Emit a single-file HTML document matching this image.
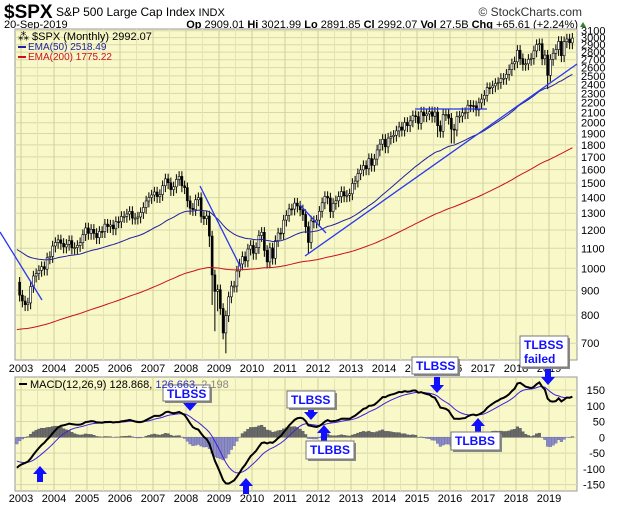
<!DOCTYPE html>
<html><head><meta charset="utf-8"><style>
html,body{margin:0;padding:0;background:#fff;}
svg{display:block;font-family:"Liberation Sans",sans-serif;}
</style></head><body>
<svg id="chart" width="620" height="507" viewBox="0 0 620 507">
<text x="4" y="18" font-size="19" font-weight="bold">$SPX</text>
<text x="56" y="16" font-size="12">S&amp;P 500 Large Cap Index <tspan font-size="11">INDX</tspan></text>
<text x="582" y="16" font-size="12" fill="#333" text-anchor="end">© StockCharts.com</text>
<text x="4" y="28" font-size="11">20-Sep-2019</text>
<text x="578" y="28" font-size="11" text-anchor="end"><tspan font-weight="bold">Op</tspan> 2909.01 <tspan font-weight="bold">Hi</tspan> 3021.99 <tspan font-weight="bold">Lo</tspan> 2891.85 <tspan font-weight="bold">Cl</tspan> 2992.07 <tspan font-weight="bold">Vol</tspan> 27.5B <tspan font-weight="bold">Chg</tspan> +65.61 (+2.24%)</text>
<polygon points="580,27 586,27 583,22" fill="#2a8a2a"/>
<rect x="15" y="29" width="562" height="331" fill="#f8f8c8" stroke="#999"/>
<rect x="15" y="377" width="562" height="114" fill="#f8f8c8" stroke="#999"/>
<g id="grid"></g>
<g id="price"></g>
<g id="macd"></g>
<g id="notes"></g>
<text x="18" y="40" font-size="11">⁂ $SPX (Monthly) 2992.07</text>
<rect x="18" y="46" width="8" height="2" fill="#2020a0"/>
<text x="28" y="50" font-size="10" fill="#2020a0">EMA(50) 2518.49</text>
<rect x="18" y="56" width="8" height="2" fill="#cc1020"/>
<text x="28" y="60" font-size="10" fill="#cc1020">EMA(200) 1775.22</text>
<rect x="19" y="383" width="8" height="2" fill="#000"/>
<text x="30" y="388" font-size="11">MACD(12,26,9) 128.868, <tspan fill="#3030d0">126.663</tspan>, <tspan fill="#888">2.198</tspan></text>
</svg>
<script>
const closes2002 = [936, 880];
const closes = [856,841,848,917,964,975,990,1008,996,1051,1058,1112,
1131,1145,1126,1107,1121,1141,1102,1104,1115,1130,1174,1212,
1181,1204,1181,1157,1192,1191,1234,1220,1229,1207,1249,1248,
1280,1281,1295,1311,1270,1270,1277,1304,1336,1378,1401,1418,
1438,1407,1421,1482,1531,1503,1455,1474,1527,1549,1481,1468,
1379,1331,1323,1386,1400,1280,1267,1283,1166,969,896,903,
826,735,798,873,919,919,987,1021,1057,1036,1096,1115,
1074,1104,1169,1187,1089,1031,1102,1049,1141,1183,1181,1258,
1286,1327,1326,1364,1345,1321,1292,1219,1131,1253,1247,1258,
1312,1366,1408,1398,1310,1362,1379,1407,1441,1412,1416,1426,
1498,1515,1569,1598,1631,1606,1686,1633,1682,1757,1806,1848,
1783,1859,1872,1884,1924,1960,1931,2003,1972,2018,2068,2059,
1995,2105,2068,2086,2107,2063,2104,1972,1920,2079,2080,2044,
1940,1932,2060,2065,2097,2099,2174,2171,2168,2126,2199,2239,
2279,2364,2363,2384,2412,2423,2470,2472,2519,2575,2648,2674,
2824,2714,2641,2648,2705,2718,2816,2902,2914,2712,2760,2507,
2704,2784,2834,2946,2752,2942,2980,2926,2992];
const lowOverrides = {74:667, 69:840, 70:741, 71:815, 68:1107, 104:1075, 151:1867, 156:1812, 157:1810, 191:2347};
const priceTicks = [700,800,900,1000,1100,1200,1300,1400,1500,1600,1700,1800,1900,2000,2100,2200,2300,2400,2500,2600,2700,2800,2900,3000,3100];
const macdTicks = [150,100,50,0,-50,-100,-150];
const years = [2003,2004,2005,2006,2007,2008,2009,2010,2011,2012,2013,2014,2015,2016,2017,2018,2019];

const NS="http://www.w3.org/2000/svg";
function mk(tag, attrs, parent){const e=document.createElementNS(NS,tag);for(const k in attrs)e.setAttribute(k,attrs[k]);parent.appendChild(e);return e;}
const xM = m => 21 + (m+0.5)*2.75;
const xY = y => 21 + (y-2003)*33;
const yP = v => 268.3 - 210*Math.log(v/1000);
const yM = v => 437.3 - v*0.3153;

const grid=document.getElementById('grid'), price=document.getElementById('price'), macdG=document.getElementById('macd');
priceTicks.forEach(t=>{const y=yP(t);
 const l=mk('line',{x1:15,x2:577,y1:y,y2:y,stroke:'#d8d8a8','stroke-width':1},grid);
 
 
 const tx=mk('text',{x:581,y:y+4,'font-size':11},grid);tx.textContent=t;
 
 
});
macdTicks.forEach(t=>{const y=yM(t);
 const l=mk('line',{x1:15,x2:577,y1:y,y2:y,stroke:'#d8d8a8'},grid);
 
 
 const tx=mk('text',{x:605,y:y+4,'font-size':11,'text-anchor':'end'},grid);tx.textContent=t;
 
 
});
years.forEach(yr=>{const x=xY(yr);
 [[29,360],[377,491]].forEach(r=>{const l=mk('line',{x1:x,x2:x,y1:r[0],y2:r[1],stroke:'#d0d09a'},grid);
 
 
 const h=x+16.5; if(h<577){const l2=mk('line',{x1:h,x2:h,y1:r[0],y2:r[1],stroke:'#e4e4b8'},grid);
 
 }});
 [372,502].forEach(yy=>{const tx=mk('text',{x:x,y:yy,'font-size':11,'text-anchor':'middle'},grid);tx.textContent=yr;
 
 });
});

const all = closes2002.concat(closes);
const off = closes2002.length;
let e50=1100,e200=745,e12=870,e26=980,sig=-70;
const ema50=[],ema200=[],macd=[],signal=[];
all.forEach((c,i)=>{
 e50=e50+(c-e50)*2/51; e200=e200+(c-e200)*2/201;
 e12=e12+(c-e12)*2/13; e26=e26+(c-e26)*2/27;
 const m=e12-e26; sig=sig+(m-sig)*2/10;
 ema50.push(e50);ema200.push(e200);macd.push(m);signal.push(sig);
});
all.forEach((c,i)=>{
 const m=i-off; if(i===0) return;
 const o=all[i-1]; const x=xM(m);
 const hi=Math.max(o,c)*1.025; let lo=Math.min(o,c)*0.97;
 if(lowOverrides[m]!==undefined) lo=lowOverrides[m];
 const w=mk('line',{x1:x,x2:x,y1:yP(hi),y2:yP(lo),stroke:'#000','stroke-width':1},price);
 
 
 const top=yP(Math.max(o,c)),bot=yP(Math.min(o,c));
 const b=mk('rect',{x:x-1,y:top,width:2,height:Math.max(1,bot-top),fill:c<o?'#000':'#fff',stroke:'#000','stroke-width':0.6},price);
 
 
});
function poly(arr,yf,col,w,name,g){const pts=arr.map((v,i)=>[Math.max(15,xM(i-off)),yf(v)].join(',')).join(' ');
 const p=mk('polyline',{points:pts,fill:'none',stroke:col,'stroke-width':w},g);
 
 }
poly(ema200,yP,'#cc1020',1,'ema200-line',price);
poly(ema50,yP,'#2020a0',1,'ema50-line',price);
macd.forEach((m,i)=>{const h=m-signal[i];const x=xM(i-off);if(x<15)return;
 const y0=yM(0),y1=yM(h);
 const r=mk('rect',{x:x-1.37,y:Math.min(y0,y1),width:2.75,height:Math.abs(y1-y0),fill:h>=0?'#6a6a6a':'#8c8cc4',stroke:h>=0?'#555':'#6a6aa8','stroke-width':0.4},macdG);
 
 
});
poly(signal,yM,'#4020e0',1,'macd-signal-line',macdG);
poly(macd,yM,'#000',2,'macd-line',macdG);

const notes=document.getElementById('notes');
function tl(x1,y1,x2,y2,name){const l=mk('line',{x1,y1,x2,y2,stroke:'#2838f0','stroke-width':1.3},notes);
 
 }
tl(0,232,42,300,'trendline-2002');
tl(200,186,241,268,'trendline-2008');
tl(300,205,326,233,'trendline-2011');
tl(305,256,577,64,'trendline-uptrend');
tl(415,109,487,109,'resistance-line-2100');
function arrow(x,yTip,dir,name){const s=dir; const L=16;
 const y0=yTip-s*L; const hh=8;
 const pts=[[x-3,y0],[x+3,y0],[x+3,yTip-s*hh],[x+7,yTip-s*hh],[x,yTip],[x-7,yTip-s*hh],[x-3,yTip-s*hh]].map(p=>p.join(',')).join(' ');
 const p=mk('polygon',{points:pts,fill:'#1010ff'},notes);
 
 }
function box(x,y,w,h,lines,name){const g=mk('g',{},notes);
 
 
 mk('rect',{x:x+2,y:y+2,width:w,height:h,fill:'#888'},g);
 mk('rect',{x,y,width:w,height:h,fill:'#fff',stroke:'#777'},g);
 lines.forEach((t,i)=>{const tx=mk('text',{x:x+4,y:y+13+i*14,'font-size':12,'font-weight':'bold',fill:'#1010ff'},g);tx.textContent=t;});}
arrow(190,411,1,'sell-arrow-2007');
box(163,385,47,16,['TLBSS'],'tlbss-2007-label');
arrow(311,420,1,'sell-arrow-2011');
box(287,391,48,17,['TLBSS'],'tlbss-2011-label');
arrow(324,425,-1,'buy-arrow-2012');
box(306,441,48,18,['TLBBS'],'tlbbs-2012-label');
arrow(437,393,1,'sell-arrow-2015');
box(412,357,46,17,['TLBSS'],'tlbss-2015-label');
arrow(478,418,-1,'buy-arrow-2016');
box(451,432,49,18,['TLBBS'],'tlbbs-2016-label');
arrow(548,385,1,'sell-arrow-2018');
box(520,336,48,31,['TLBSS','failed'],'tlbss-failed-label');
arrow(40,466,-1,'buy-arrow-2003');
arrow(246,478,-1,'buy-arrow-2009');
</script>
</body></html>
